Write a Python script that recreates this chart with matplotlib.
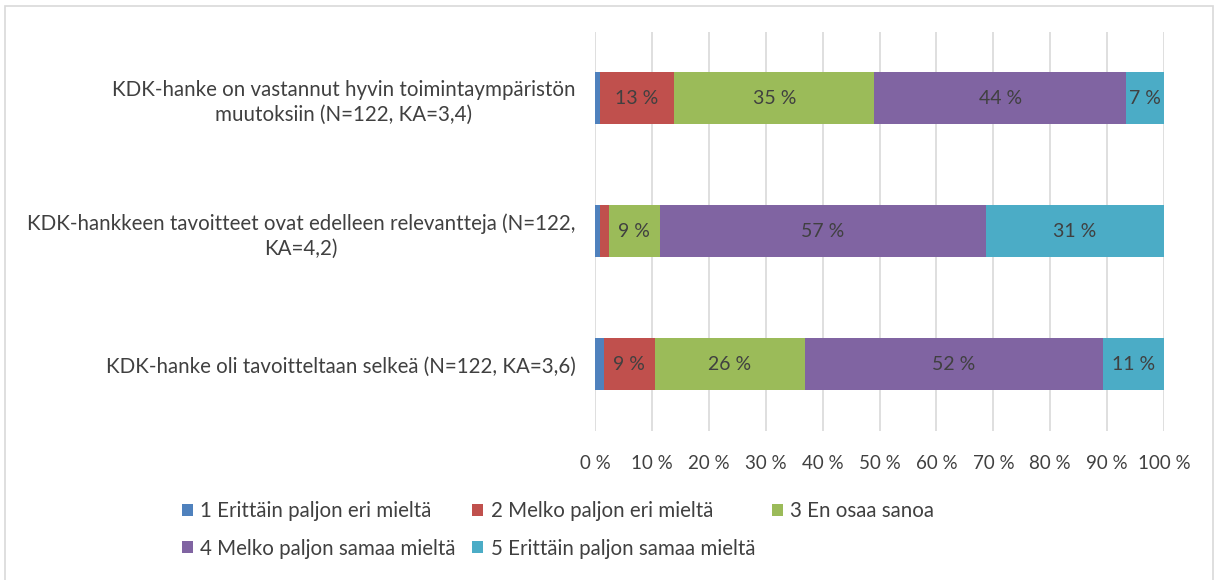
import matplotlib
matplotlib.use("Agg")
import matplotlib.pyplot as plt
from matplotlib.patches import Rectangle
import numpy as np

plt.rcParams['font.family'] = ['Lato', 'DejaVu Sans']

categories = [
    "KDK-hanke on vastannut hyvin toimintaympäristön\nmuutoksiin (N=122, KA=3,4)",
    "KDK-hankkeen tavoitteet ovat edelleen relevantteja (N=122,\nKA=4,2)",
    "KDK-hanke oli tavoitteltaan selkeä (N=122, KA=3,6)",
]
series_names = [
    "1 Erittäin paljon eri mieltä",
    "2 Melko paljon eri mieltä",
    "3 En osaa sanoa",
    "4 Melko paljon samaa mieltä",
    "5 Erittäin paljon samaa mieltä",
]
values = {
    "1 Erittäin paljon eri mieltä": [0.8, 0.8, 1.6],
    "2 Melko paljon eri mieltä": [13.1, 1.6, 8.9],
    "3 En osaa sanoa": [35.2, 9.0, 26.4],
    "4 Melko paljon samaa mieltä": [44.3, 57.3, 52.4],
    "5 Erittäin paljon samaa mieltä": [6.6, 31.3, 10.7],
}
tick_values = [0, 10, 20, 30, 40, 50, 60, 70, 80, 90, 100]
colors = ["#4F81BD", "#C0504D", "#9BBB59", "#8064A2", "#4BACC6"]

text_color = "#404040"

fig = plt.figure(figsize=(12.18, 5.80), dpi=100)
fig.patches.append(Rectangle((0.004, -0.01), 0.992, 1.0, transform=fig.transFigure,
                             fill=False, edgecolor="#D9D9D9", linewidth=1.2))
ax = fig.add_axes([0.4885, 0.257, 0.4672, 0.688])

y = np.arange(len(categories))
left = np.zeros(len(categories))
handles = []
for name, c in zip(series_names, colors):
    vals = np.array(values[name])
    b = ax.barh(y, vals, left=left, height=0.39, color=c, label=name, zorder=3)
    handles.append(b)
    for yi, v, l in zip(y, vals, left):
        if v >= 5:
            ax.text(l + v / 2, yi, f"{v:.0f} %", ha="center", va="center",
                    fontsize=14, color=text_color, zorder=4)
    left += vals

ax.set_xlim(0, 100)
ax.set_ylim(len(categories) - 0.5, -0.5)
ax.set_xticks(tick_values)
ax.set_xticklabels([f"{t} %" for t in tick_values], fontsize=13.5, color=text_color)
ax.set_yticks(y)
ax.set_yticklabels(categories, fontsize=14.8, color=text_color,
                   multialignment="center", linespacing=1.3)
ax.tick_params(axis="both", length=0)
ax.tick_params(axis="x", pad=17)
ax.tick_params(axis="y", pad=14)
ax.grid(axis="x", color="#D9D9D9", linewidth=1.2, zorder=0)
for s in ax.spines.values():
    s.set_visible(False)

order = [0, 3, 1, 4, 2]
leg = fig.legend([handles[i] for i in order], [series_names[i] for i in order],
                 ncol=3, loc="upper left", bbox_to_anchor=(0.134, 0.168),
                 frameon=False, fontsize=14.8, handlelength=0.55, handleheight=0.55,
                 handletextpad=0.35, columnspacing=0.8, labelspacing=0.85)
for t in leg.get_texts():
    t.set_color(text_color)

fig.savefig("out.png", dpi=100)
